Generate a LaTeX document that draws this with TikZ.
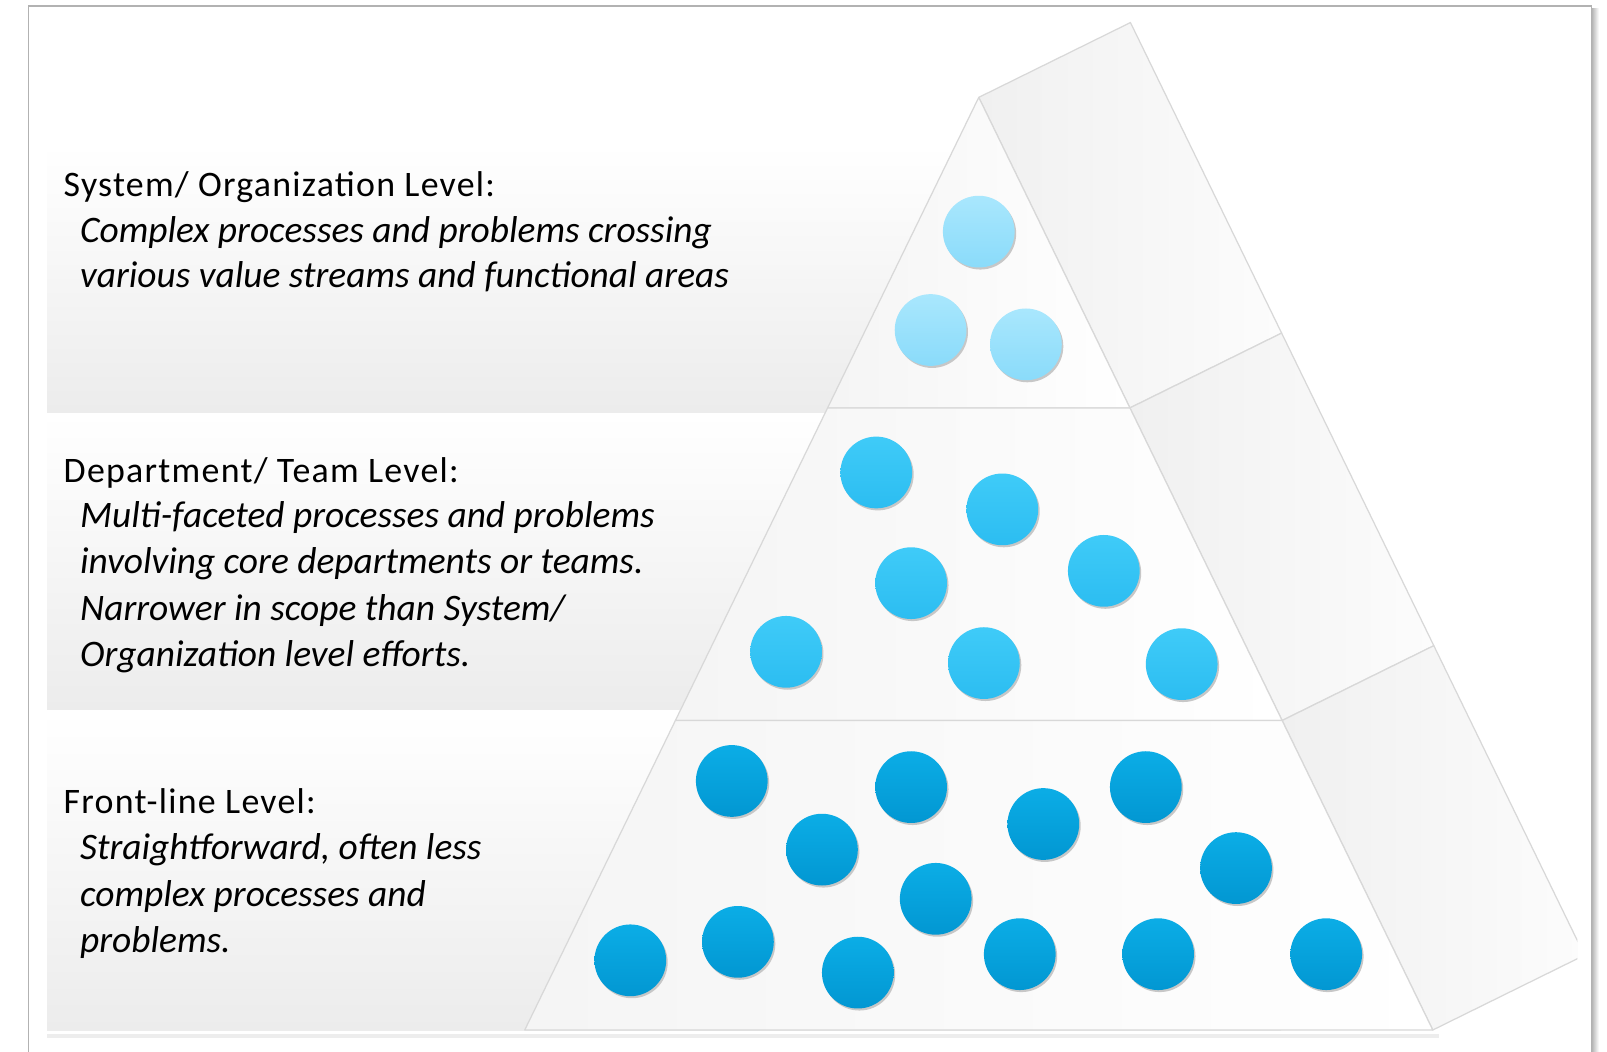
\documentclass[tikz,border=0pt]{standalone}
\usepackage{fontspec}
\setmainfont{Carlito}
\newfontfamily\headfont[LetterSpace=3.5]{Carlito}
\usetikzlibrary{shadows}

\definecolor{framegray}{HTML}{B2B2B2}
\definecolor{edgegray}{HTML}{D8D8D8}
\definecolor{bandlow}{HTML}{ECECEC}
\definecolor{sidedark}{HTML}{F0F0F0}
\definecolor{sidelight}{HTML}{FCFCFC}
\definecolor{topA}{HTML}{A9E7FD}
\definecolor{topB}{HTML}{8ADBFA}
\definecolor{midA}{HTML}{3FCBF8}
\definecolor{midB}{HTML}{2CBDF1}
\definecolor{lowA}{HTML}{0BADE6}
\definecolor{lowB}{HTML}{0297D2}

\tikzset{
  band/.style={top color=white, bottom color=bandlow, draw=none},
  sideface/.style={left color=sidedark, right color=sidelight, draw=edgegray, line width=1.2pt, line join=round},
  frontface/.style={left color=black!4, right color=white, draw=edgegray, line width=1.2pt, line join=round},
  dot/.style={circle, minimum size=70pt, inner sep=0pt, draw=none,
    general shadow={fill=black!22, shadow xshift=1.5pt, shadow yshift=-2pt}},
  dottop/.style={dot, top color=topA, bottom color=topB},
  dotmid/.style={dot, top color=midA, bottom color=midB},
  dotlow/.style={dot, top color=lowA, bottom color=lowB},
  heading/.style={anchor=base west, inner sep=0pt, font=\headfont\fontsize{35}{42}\selectfont},
  desc/.style={anchor=base west, inner sep=0pt, font=\fontsize{36.5}{44}\selectfont\itshape},
}

\begin{document}
\begin{tikzpicture}[x=1pt, y=-1pt]
\useasboundingbox (0,0) rectangle (1568,1026);
\fill[white] (0,0) rectangle (1568,1026);

% page frame with its soft right-hand shadow
\shade[left color=black!30, right color=white] (1553,8) rectangle (1560,1030);
\draw[framegray, line width=1.3pt] (28,1030) -- (28,6) -- (1553,6) -- (1553,1030);

% grey level bands behind the text
\path[band] (46,141) rectangle (1100,402);
\path[band] (46,404) rectangle (1100,692);
\path[band] (46,694) rectangle (1250,1005);
\fill[black!7] (46,1009) rectangle (1404,1013);

% pyramid corners: front face and the receding back edge
\coordinate (apex) at (955,95);
\coordinate (l1) at (807.5,398);  \coordinate (r1) at (1102.5,398);
\coordinate (l2) at (659,703);    \coordinate (r2) at (1251,703);
\coordinate (l3) at (512,1005);   \coordinate (r3) at (1398,1005);
\coordinate (b0) at (1103,22);
\coordinate (b1) at (1250.5,325);
\coordinate (b2) at (1399,630);
\coordinate (b3) at (1546,932);

% side faces
\begin{scope}
  \clip (0,0) rectangle (1539,1026);
  \path[sideface] (apex) -- (b0) -- (b1) -- (r1) -- cycle;
  \path[sideface] (r1) -- (b1) -- (b2) -- (r2) -- cycle;
  \path[sideface] (r2) -- (b2) -- (b3) -- (r3) -- cycle;
\end{scope}

% front face tiers
\path[frontface] (apex) -- (r1) -- (l1) -- cycle;
\path[frontface] (l1) -- (r1) -- (r2) -- (l2) -- cycle;
\path[frontface] (l2) -- (r2) -- (r3) -- (l3) -- cycle;

% top tier
\foreach \px/\py [count=\i] in {955/226, 908/322, 1001/336}
  \node[dottop] (top\i) at (\px,\py) {};

% middle tier
\foreach \px/\py [count=\i] in {855/461, 978/497, 1077/557, 889/569,
                                767/636, 960/647, 1153/648}
  \node[dotmid] (mid\i) at (\px,\py) {};

% bottom tier
\foreach \px/\py [count=\i] in {714/762, 889/768, 1118/768, 1018/804,
                                802/829, 1206/847, 913/877, 615/937,
                                720/919, 837/949, 995/931, 1130/931, 1294/931}
  \node[dotlow] (low\i) at (\px,\py) {};

% level descriptions
\node[heading] (sysh) at (62,192) {System/ Organization Level:};
\node[desc] (sys1) at (78,237) {Complex processes and problems crossing};
\node[desc] (sys2) at (78,281) {various value streams and functional areas};

\node[heading] (deph) at (62,471) {Department/ Team Level:};
\node[desc] (dep1) at (78,515) {Multi-faceted processes and problems};
\node[desc] (dep2) at (78,560) {involving core departments or teams.};
\node[desc] (dep3) at (78,605) {Narrower in scope than System/};
\node[desc] (dep4) at (78,650) {Organization level efforts.};

\node[heading] (lowh) at (62,794) {Front-line Level:};
\node[desc] (low1) at (78,839) {Straightforward, often less};
\node[desc] (low2) at (78,884) {complex processes and};
\node[desc] (low3) at (78,929) {problems.};
\end{tikzpicture}
\end{document}
